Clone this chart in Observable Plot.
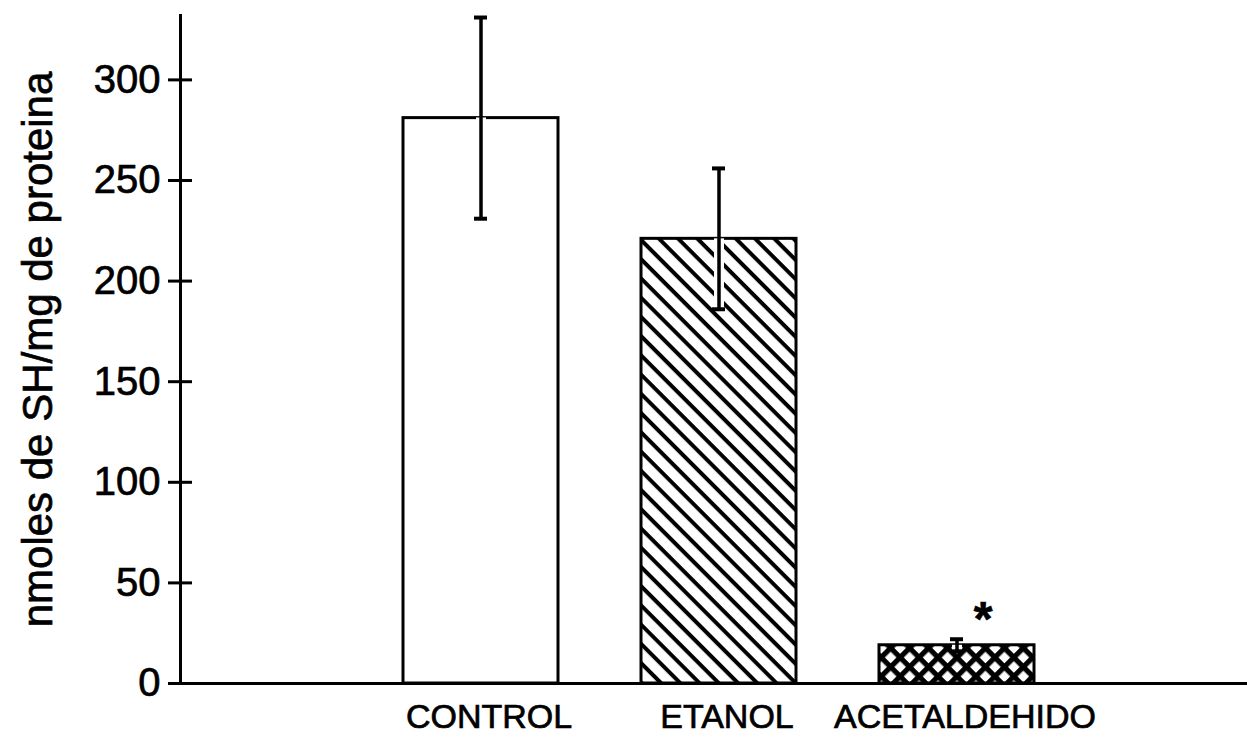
<!DOCTYPE html>
<html>
<head>
<meta charset="utf-8">
<script src="https://cdn.jsdelivr.net/npm/d3@7"></script>
<script src="https://cdn.jsdelivr.net/npm/@observablehq/plot@0.6"></script>
<style>
  body { margin: 0; background: #fff; }
  #chart svg { display: block; }
  #chart svg text { stroke: black; stroke-width: 0.7px; }
</style>
</head>
<body>
<div id="chart"></div>
<script>
// Sulfhydryl groups (nmol SH / mg protein), mean ± SEM per treatment
const groups = ["CONTROL", "ETANOL", "ACETALDEHIDO"];
const means = [281, 221, 19];
const sems = [50, 35, 3];
const fills = ["white", "url(#hatch-diag)", "url(#hatch-cross)"];
const yTicks = [0, 50, 100, 150, 200, 250, 300];
const yLabel = "nmoles de SH/mg de proteina";
const significant = ["ACETALDEHIDO"];

const rows = groups.map((g, i) => ({
  group: g,
  mean: means[i],
  lo: means[i] - sems[i],
  hi: means[i] + sems[i],
  fill: fills[i]
}));
const starRows = rows.filter(d => significant.includes(d.group));

const font = "'Liberation Sans', Arial, Helvetica, sans-serif";

const svg = Plot.plot({
  width: 1247,
  height: 747,
  marginLeft: 180,
  marginRight: 0,
  marginTop: 15,
  marginBottom: 64,
  style: { fontFamily: font, background: "white", color: "black" },
  x: { domain: groups, range: [361, 1075], paddingInner: 0.35, paddingOuter: 0.175, label: null },
  y: { domain: [0, 332], label: null },
  color: { type: "identity" },
  marks: [
    // bars with outline
    Plot.barY(rows, { x: "group", y: "mean", fill: "fill", stroke: "black", strokeWidth: 3 }),
    // white gap around the error line inside hatched bars
    Plot.ruleX(rows, { x: "group", y1: "lo", y2: "mean", stroke: "white", strokeWidth: 10 }),
    // error bars
    Plot.ruleX(rows, { x: "group", y1: "lo", y2: "hi", stroke: "black", strokeWidth: 3.5 }),
    Plot.tickY(rows, { x: "group", y: "hi", stroke: "black", strokeWidth: 4, insetLeft: 71, insetRight: 71 }),
    Plot.tickY(rows, { x: "group", y: "lo", stroke: "black", strokeWidth: 4, insetLeft: 71, insetRight: 71 }),
    // significance marker
    Plot.text(starRows, { x: "group", y: "hi", text: () => "*", dx: 26, dy: -20, fontSize: 48, fontWeight: "bold", fill: "black" }),
    // axes lines
    Plot.ruleY([0], { stroke: "black", strokeWidth: 3 }),
    Plot.frame({ anchor: "left", stroke: "black", strokeWidth: 3 }),
    // y ticks crossing the axis line
    Plot.axisY({ ticks: yTicks, tickSize: 24, dx: 12, text: null, strokeWidth: 3, label: null }),
    Plot.axisY({ ticks: yTicks, tickSize: 0, tickPadding: 20, fontSize: 40, fill: "black", label: null }),
    Plot.axisX({ tickSize: 0, tickPadding: 20, fontSize: 34, dx: 8, fill: "black", label: null }),
    // y-axis title
    Plot.text([yLabel], { frameAnchor: "left", text: d => d, rotate: -90, dx: -142, fontSize: 42, lineAnchor: "middle", textAnchor: "middle", fill: "black" })
  ]
});

// hatch patterns used as bar fills
const defs = d3.select(svg).insert("defs", ":first-child");
const diag = defs.append("pattern")
  .attr("id", "hatch-diag")
  .attr("patternUnits", "userSpaceOnUse")
  .attr("width", 10).attr("height", 13.6)
  .attr("patternTransform", "rotate(45)");
diag.append("rect").attr("width", 10).attr("height", 13.6).attr("fill", "white");
diag.append("rect").attr("width", 10).attr("height", 4).attr("fill", "black");

const cross = defs.append("pattern")
  .attr("id", "hatch-cross")
  .attr("patternUnits", "userSpaceOnUse")
  .attr("width", 13.4).attr("height", 13.4)
  .attr("patternTransform", "rotate(45)");
cross.append("rect").attr("width", 13.4).attr("height", 13.4).attr("fill", "white");
cross.append("rect").attr("width", 13.4).attr("height", 5.2).attr("fill", "black");
cross.append("rect").attr("width", 5.2).attr("height", 13.4).attr("fill", "black");

document.getElementById("chart").appendChild(svg);
</script>
</body>
</html>
